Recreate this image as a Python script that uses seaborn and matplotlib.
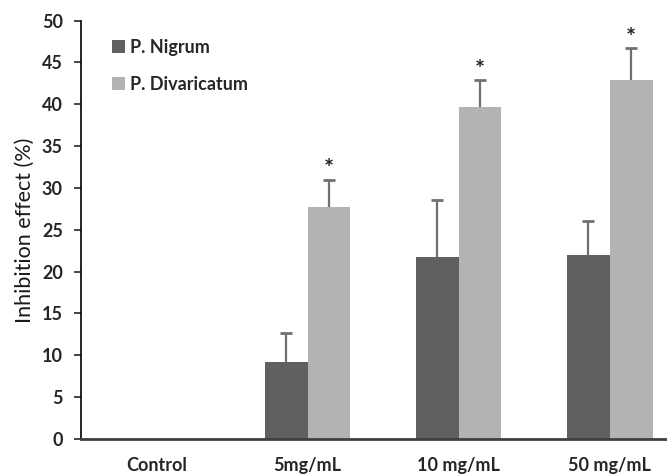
import numpy as np
import pandas as pd
import seaborn as sns
import matplotlib
matplotlib.use("Agg")
import matplotlib.pyplot as plt

categories = ["Control", "5mg/mL", "10 mg/mL", "50 mg/mL"]
series = ["P. Nigrum", "P. Divaricatum"]
nigrum = [0.0, 9.2, 21.8, 22.0]
divaricatum = [0.0, 27.7, 39.7, 42.9]
nigrum_err = [0.0, 3.5, 6.8, 4.0]
divaricatum_err = [0.0, 3.3, 3.2, 3.8]
significant = [False, True, True, True]

df = pd.DataFrame({
    "dose": categories * 2,
    "group": [series[0]] * 4 + [series[1]] * 4,
    "value": nigrum + divaricatum,
})

sns.set_style("ticks")
plt.rcParams["font.family"] = ["Lato", "DejaVu Sans"]

colors = ["#606060", "#b3b3b3"]
fig = plt.figure(figsize=(6.67, 4.76), dpi=100)
ax = fig.add_axes([0.1214, 0.0777, 0.8786, 0.879])

sns.barplot(data=df, x="dose", y="value", hue="group", palette=colors,
            width=0.568, dodge=True, errorbar=None, ax=ax, saturation=1,
            edgecolor="none")

# error bars (upper only) centred on the drawn bars
errs = [nigrum_err, divaricatum_err]
vals = [nigrum, divaricatum]
bar_conts = list(ax.containers)
for j, cont in enumerate(bar_conts):
    xs = [p.get_x() + p.get_width() / 2 for p in cont.patches]
    for i, x in enumerate(xs):
        if vals[j][i] == 0:
            continue
        top = vals[j][i] + errs[j][i]
        ax.errorbar(x, vals[j][i], yerr=[[0], [errs[j][i]]], fmt="none",
                    ecolor="#707070", elinewidth=1.6, capsize=0)
        ax.plot(x, top, marker="_", markersize=9, mew=2.0, color="#707070")
        if j == 1 and significant[i]:
            ax.text(x, top + 0.3, "*", ha="center", va="baseline",
                    fontsize=17, fontweight="bold", color="#222222")

ax.set_ylim(0, 50)
ax.set_yticks(np.arange(0, 51, 5))
ax.set_xlim(-0.5, 3.38)
ax.set_xlabel("")
ax.set_ylabel("Inhibition effect (%)", fontsize=15.5, labelpad=5,
              color="#1a1a1a")

for lab in ax.get_yticklabels() + ax.get_xticklabels():
    lab.set_fontweight("bold")
    lab.set_fontsize(13)
ax.tick_params(axis="x", length=0, pad=13)
ax.tick_params(axis="y", length=5, width=1.2, direction="out", pad=8)

sns.despine(ax=ax)
ax.spines["left"].set_linewidth(1.2)
ax.spines["left"].set_color("black")
ax.spines["bottom"].set_linewidth(2.0)
ax.spines["bottom"].set_color("#404040")

leg = ax.legend(loc="upper left", bbox_to_anchor=(0.155, 0.937),
                bbox_transform=fig.transFigure, frameon=False, borderpad=0,
                handlelength=0.7, handleheight=0.7, handletextpad=0.25,
                labelspacing=1.1, prop={"weight": "bold", "size": 13})

fig.savefig("out.png", dpi=100)
